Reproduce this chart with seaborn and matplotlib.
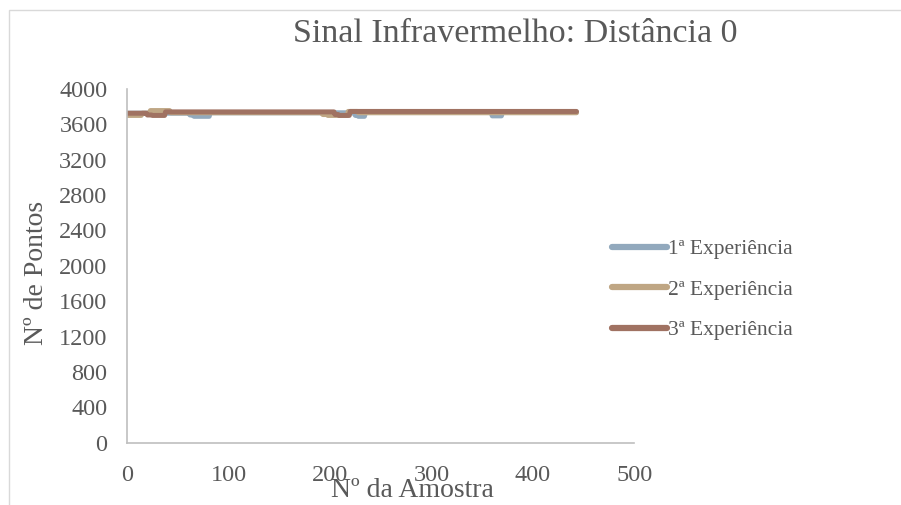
import numpy as np
import pandas as pd
import matplotlib
matplotlib.use("Agg")
import matplotlib.pyplot as plt
from matplotlib.patches import Rectangle
import seaborn as sns

# Run-length description of each experiment: level values and how many samples stay there
EXP1_LEVELS = [3725, 3705, 3690, 3730, 3700, 3690, 3735, 3695, 3735]
EXP1_RUNS   = [62, 4, 16, 143, 3, 7, 125, 10, 74]
EXP2_LEVELS = [3700, 3725, 3755, 3730, 3710, 3700, 3745, 3730]
EXP2_RUNS   = [15, 8, 20, 150, 5, 20, 10, 216]
EXP3_LEVELS = [3725, 3705, 3700, 3740, 3710, 3700, 3745]
EXP3_RUNS   = [20, 5, 13, 167, 4, 11, 224]

SERIES = ["1ª Experiência", "2ª Experiência", "3ª Experiência"]
COLORS = ["#92A9BD", "#BFA684", "#A07262"]

X_TICKS = [0, 100, 200, 300, 400, 500]
Y_TICKS = list(range(0, 4001, 400))


def expand(levels, runs):
    return np.repeat(levels, runs)


frames = []
for name, lv, rn in zip(SERIES, [EXP1_LEVELS, EXP2_LEVELS, EXP3_LEVELS],
                        [EXP1_RUNS, EXP2_RUNS, EXP3_RUNS]):
    y = expand(lv, rn)
    frames.append(pd.DataFrame({"amostra": np.arange(len(y)), "pontos": y, "serie": name}))
df = pd.concat(frames, ignore_index=True)

sns.set_style("white")
plt.rcParams["font.family"] = ["Liberation Serif", "DejaVu Serif"]

fig = plt.figure(figsize=(9.01, 5.05), dpi=100)
ax = fig.add_axes([0.141, 0.123, 0.563, 0.701])

sns.lineplot(data=df, x="amostra", y="pontos", hue="serie", hue_order=SERIES,
             palette=COLORS, linewidth=3.6, ax=ax, legend=True)

ax.set_xlim(0, 500)
ax.set_ylim(0, 4000)
ax.set_xticks(X_TICKS)
ax.set_yticks(Y_TICKS)
ax.tick_params(length=0, labelsize=17.5, colors="#595959")
ax.tick_params(axis="y", pad=14)
ax.tick_params(axis="x", pad=16)
for s in ["top", "right"]:
    ax.spines[s].set_visible(False)
for s in ["left", "bottom"]:
    ax.spines[s].set_color("#BFBFBF")
    ax.spines[s].set_linewidth(1.2)

ax.set_xlabel("")
ax.set_ylabel("")
# the axis title sits on top of the tick labels, as in the original chart
fig.text(0.458, 0.028, "Nº da Amostra", fontsize=20, color="#595959", ha="center", va="center")
fig.text(0.040, 0.46, "Nº de Pontos", fontsize=20, color="#595959", ha="center", va="center",
         rotation=90)
fig.text(0.572, 0.934, "Sinal Infravermelho: Distância 0", fontsize=24.5, color="#595959",
         ha="center", va="center")

handles, labels = ax.get_legend_handles_labels()
for h in handles:
    h.set_linewidth(4.5)
    h.set_solid_capstyle("round")
ax.legend(handles, labels, loc="center left", bbox_to_anchor=(0.658, 0.426),
          bbox_transform=fig.transFigure, frameon=False, fontsize=15.5,
          handlelength=2.55, handletextpad=0.05, labelspacing=0.95, labelcolor="#595959")

fig.patches.append(Rectangle((0.010, -0.01), 0.995, 0.99, transform=fig.transFigure,
                             fill=False, edgecolor="#D9D9D9", linewidth=1.0))

fig.savefig("out.png", dpi=100)
